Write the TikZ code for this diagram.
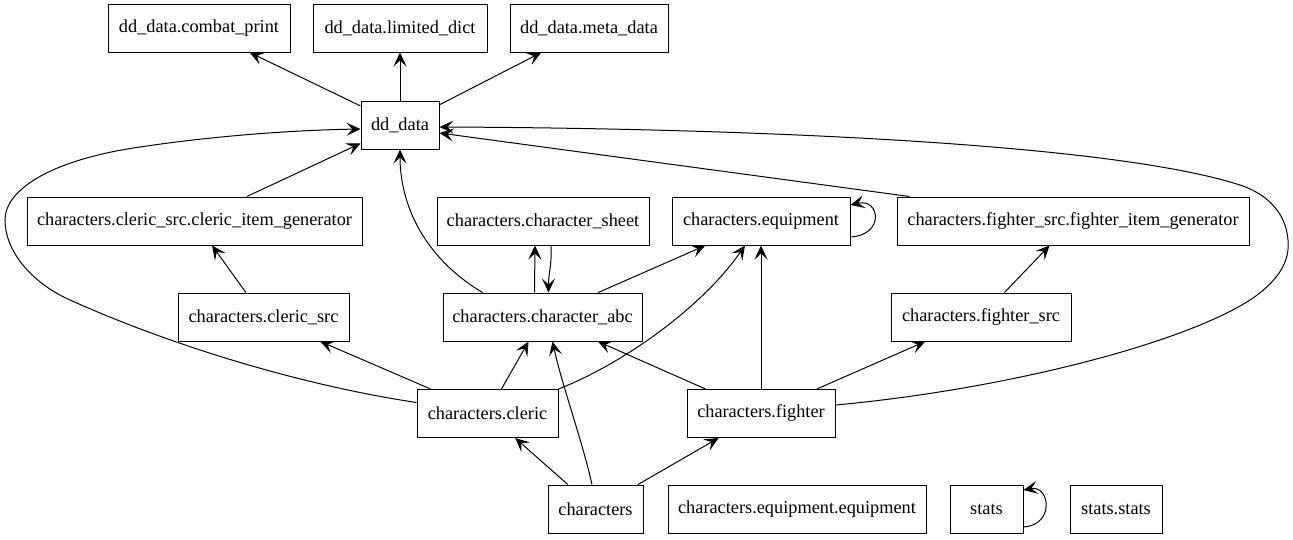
\documentclass[tikz,border=0pt]{standalone}
\usepackage{fontspec}
\setmainfont{Liberation Serif}
\usetikzlibrary{arrows.meta}

\begin{document}
\begin{tikzpicture}[x=1pt,y=-1pt,
    mod/.style={draw,line width=1pt,minimum height=48pt,inner sep=0pt,
      font=\fontsize{18.3}{20}\selectfont},
    dep/.style={-{Stealth[length=14pt,width=13pt,inset=6pt]},line width=1pt}]
  \useasboundingbox (0,0) rectangle (1293,539);
  \node[mod,minimum width=182pt] (combat) at (199,28) {dd\_data.combat\_print};
  \node[mod,minimum width=174pt] (limited) at (400,28) {dd\_data.limited\_dict};
  \node[mod,minimum width=158pt] (meta) at (589,28) {dd\_data.meta\_data};
  \node[mod,minimum width=78pt] (dddata) at (400,125) {dd\_data};
  \node[mod,minimum width=335pt] (clericgen) at (194.5,221)
    {characters.cleric\_src.cleric\_item\_generator};
  \node[mod,minimum width=212pt] (sheet) at (543,221) {characters.character\_sheet};
  \node[mod,minimum width=178pt] (equip) at (761,221) {characters.equipment};
  \node[mod,minimum width=352pt] (fightergen) at (1073,221)
    {characters.fighter\_src.fighter\_item\_generator};
  \node[mod,minimum width=171pt] (clericsrc) at (263.5,317) {characters.cleric\_src};
  \node[mod,minimum width=199pt] (abc) at (542.5,317) {characters.character\_abc};
  \node[mod,minimum width=180pt] (fightersrc) at (981,317) {characters.fighter\_src};
  \node[mod,minimum width=141pt] (cleric) at (487.5,413.5) {characters.cleric};
  \node[mod,minimum width=148pt] (fighter) at (761,413.5) {characters.fighter};
  \node[mod,minimum width=95pt] (chars) at (595.5,509) {characters};
  \node[mod,minimum width=258pt] (equipequip) at (797,509)
    {characters.equipment.equipment};
  \node[mod,minimum width=73pt] (stats) at (986.5,509) {stats};
  \node[mod,minimum width=92pt] (statsstats) at (1116,509) {stats.stats};

  \draw[dep] (dddata) -- (combat);
  \draw[dep] (dddata) -- (limited);
  \draw[dep] (dddata) -- (meta);
  \draw[dep] (clericgen) -- (dddata);
  \draw[dep] ([xshift=-60pt]abc.north) .. controls (420,255) and (400,200)
    .. (dddata.south);
  \draw[dep] ([xshift=13pt]fightergen.north west) -- ([yshift=-8pt]dddata.east);
  \draw[dep] ([yshift=11pt]cleric.west) .. controls (300,385) and (170,345)
    .. (70,300) .. controls (30,282) and (5,250) .. (5,220)
    .. controls (5,190) and (50,160) .. (140,147)
    .. controls (220,135) and (300,130) .. ([yshift=-4pt]dddata.west);
  \draw[dep] ([yshift=8.5pt]fighter.east) .. controls (1000,390) and (1180,345)
    .. (1250,300) .. controls (1280,280) and (1290,260) .. (1288,240)
    .. controls (1286,215) and (1270,195) .. (1240,185)
    .. controls (1100,140) and (700,128) .. ([yshift=-2pt]dddata.east);
  \draw[dep] ([yshift=-16pt]equip.east) .. controls (885,235) and (880,198)
    .. ([yshift=16pt]equip.east);
  \draw[dep] ([xshift=-8pt]abc.north) -- ([xshift=-8pt]sheet.south);
  \draw[dep] ([xshift=8pt]sheet.south) .. controls +(1,20) and +(0,-20)
    .. ([xshift=6pt]abc.north);
  \draw[dep] (abc) -- (equip);
  \draw[dep] (clericsrc) -- (clericgen);
  \draw[dep] (fightersrc) -- (fightergen);
  \draw[dep] (cleric) -- (clericsrc);
  \draw[dep] (cleric) -- (abc);
  \draw[dep] (cleric.north east) .. controls (620,365) and (700,310)
    .. ([xshift=-16pt]equip.south);
  \draw[dep] (fighter) -- (abc);
  \draw[dep] (fighter) -- (equip);
  \draw[dep] (fighter) -- (fightersrc);
  \draw[dep] (chars) -- (cleric);
  \draw[dep] ([xshift=-3.5pt]chars.north) .. controls (582,440) and (562,385)
    .. ([xshift=10pt]abc.south);
  \draw[dep] (chars) -- (fighter);
  \draw[dep] ([yshift=-18pt]stats.east) .. controls (1055,525) and (1050,485)
    .. ([yshift=19pt]stats.east);
\end{tikzpicture}
\end{document}
